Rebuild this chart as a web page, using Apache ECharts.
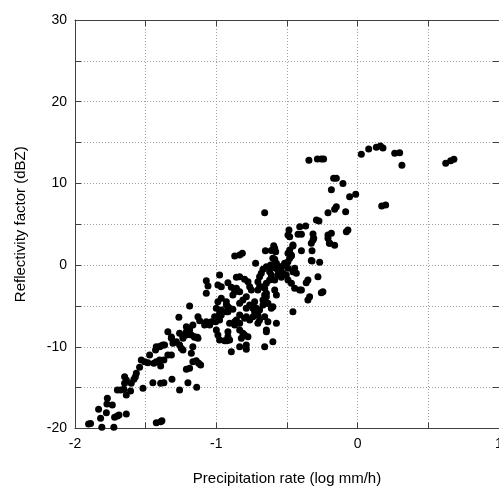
<!DOCTYPE html>
<html>
<head>
<meta charset="utf-8">
<script src="https://cdn.jsdelivr.net/npm/echarts@6/dist/echarts.min.js"></script>
<style>
html,body{margin:0;padding:0;background:#fff;}
#chart{width:499px;height:486px;}
</style>
</head>
<body>
<div id="chart"></div>
<script>
// Precipitation rate (log mm/h), reflectivity factor (dBZ) pairs
const highRatePoints = [
[-0.345,12.83],[-0.285,13.0],[-0.257,13.0],[-0.241,13.0],
[-0.17,10.63],[-0.151,10.63],[-0.186,9.23],[-0.104,10.0],[-0.057,8.37],[-0.014,8.67],
[0.026,13.56],[0.078,14.21],[0.132,14.42],[0.161,14.58],[0.179,14.33],[0.262,13.69],[0.297,13.76],[0.313,12.22],
[0.623,12.46],[0.658,12.78],[0.681,12.95],[0.17,7.24],[0.198,7.36],
[-0.658,6.42],[-0.151,7.15],[-0.163,6.83],[-0.21,6.42],[-0.085,6.54],[-0.292,5.52],[-0.274,5.4],
[-0.486,4.3],[-0.493,3.69],[-0.481,3.48],[-0.41,4.7],[-0.368,4.79],[-0.422,3.77],[-0.398,3.77],
[-0.316,3.8],[-0.311,3.28],[-0.21,3.69],[-0.186,3.89],[-0.21,3.28],[-0.08,4.09],[-0.069,4.3],[-0.2,2.67]
];
const midRatePoints = [
[-0.458,2.34],[-0.398,1.76],[-0.323,1.76],[-0.323,0.5],[-0.269,0.34],
[-0.469,1.24],[-0.481,0.83],[-0.493,0.42],[-0.517,0.22],[-0.536,-0.2],[-0.564,-0.6],
[-0.587,2.06],[-0.58,1.64],[-0.653,1.76],[-0.87,1.12],[-0.816,1.45],[-0.835,1.24],[-0.587,0.71],
[-0.616,0.01],[-0.607,-0.2],[-0.58,-0.39],[-0.722,0.22],[-0.446,-0.39],[-0.281,-1.42],
[-0.67,-0.51],[-0.682,-1.0],[-0.694,-1.42],
[-0.623,-0.8],[-0.611,-1.21],[-0.587,-1.82],[-0.564,-1.21],[-0.54,-1.49],
[-0.977,-1.21],[-1.071,-1.91],[-1.059,-2.56],
[-0.989,-2.43],[-0.965,-2.64],[-0.918,-2.15],[-0.894,-2.72],
[-0.858,-1.49],[-0.835,-1.42],[-0.8,-1.74],
[-0.776,-2.03],[-0.764,-2.64],[-0.752,-3.05],
[-0.706,-2.03],[-0.694,-2.64],[-0.706,-3.05],
[-0.658,-2.84],[-0.646,-3.45],
[-0.858,-2.84],[-0.87,-3.25],[-0.883,-3.66],[-0.788,-3.87],
[-0.587,-3.05],[-0.575,-3.66],
[-0.493,-1.82],[-0.469,-2.23],[-0.446,-2.84],
[-0.398,-3.05],[-0.352,-1.82],[-0.246,-3.25],[-0.34,-3.87],
[-0.594,2.36],[-0.611,1.8],[-0.493,1.45],[-0.469,1.12],[-0.481,1.85],
[-0.458,2.45],[-0.328,2.67],[-0.316,3.08],[-0.198,2.67],[-0.163,2.43],
[-0.328,0.55],[-0.6,0.83],[-0.575,0.22],[-0.552,-0.2],
[-0.517,0.01],[-0.493,-0.39],[-0.458,-0.8],[-0.434,-1.0],
[-0.529,-1.0],[-0.505,-1.21],[-0.646,-0.2],
[-0.623,-1.82],[-0.646,-2.23],[-0.67,-2.64],
[-0.364,-2.15],[-0.41,-3.05],[-0.352,-4.27],[-0.257,-3.37],
[-0.646,-3.87],[-0.658,-4.48],[-0.635,-4.67],[-0.611,-5.29],[-0.458,-5.7]
];
const lowerMidPoints = [
[-1.071,-3.45],[-0.835,-3.25],
[-0.989,-4.48],[-0.965,-4.06],[-0.929,-4.48],[-0.918,-5.09],
[-0.835,-4.67],[-0.812,-4.27],[-0.788,-5.29],[-0.764,-4.88],
[-0.729,-4.48],[-0.717,-5.29],[-0.67,-4.27],[-0.658,-3.66],
[-1.189,-5.0],[-1.265,-6.39],
[-1.212,-7.54],[-1.189,-7.73],[-1.166,-7.33],
[-1.13,-6.31],[-1.118,-6.8],[-1.071,-6.93],[-1.047,-7.33],
[-1.012,-6.31],[-1.005,-6.93],[-0.977,-5.9],[-0.989,-6.51],
[-0.929,-5.7],[-0.906,-5.29],[-0.858,-6.72],[-0.835,-6.11],
[-0.906,-7.12],[-0.87,-7.33],[-1.0,-7.94],[-0.835,-7.94],[-0.812,-8.35],
[-0.918,-8.76],[-0.906,-9.17],
[-1.13,-8.96],[-1.154,-8.83],[-1.177,-8.55],
[-1.26,-8.35],[-1.236,-8.96],[-1.212,-8.15],
[-1.318,-8.96],[-1.307,-9.57],[-1.401,-9.99],[-1.378,-9.78],
[-0.788,-6.31],[-0.764,-6.72],[-0.729,-5.7],
[-0.706,-6.11],[-0.694,-6.72],[-0.658,-6.31],
[-0.635,-6.93],[-0.646,-8.15],[-0.6,-5.09],
[-0.977,-9.17],[-0.941,-9.25],[-0.776,-8.76],
[-0.835,-9.99],[-0.788,-9.78],[-0.658,-9.99],[-0.6,-9.37],[-0.575,-7.12],
[-1.083,-7.33],[-1.035,-6.93],[-0.977,-6.72],[-0.965,-6.11],
[-1.0,-5.29],[-0.965,-5.49],[-0.929,-4.88],[-0.883,-5.4],[-0.918,-5.7],
[-0.87,-6.93],[-0.835,-7.12],[-0.8,-6.51],
[-0.989,-8.55],[-0.918,-8.15],[-0.925,-9.25],[-0.894,-10.6],
[-0.823,-8.96],[-0.8,-8.55],[-0.788,-10.3],
[-0.741,-6.31],[-0.717,-5.9],[-0.694,-5.49],[-0.67,-4.88],[-0.646,-4.67],
[-0.706,-7.12],[-0.646,-7.94],[-0.741,-5.29]
];
const lowRatePoints = [
[-1.904,-19.45],[-1.89,-19.4],[-1.81,-19.85],[-1.725,-19.85],
[-1.819,-18.75],[-1.833,-17.65],[-1.778,-18.06],[-1.774,-17.0],[-1.771,-16.3],[-1.736,-17.12],
[-1.72,-18.63],[-1.70,-18.47],[-1.689,-18.35],[-1.637,-18.22],
[-1.70,-15.29],[-1.677,-15.29],[-1.654,-15.2],[-1.637,-15.9],[-1.607,-15.41],
[-1.649,-14.47],[-1.637,-14.06],[-1.649,-13.66],[-1.602,-14.47],[-1.583,-13.98],
[-1.566,-13.24],[-1.573,-13.66],[-1.543,-12.51],
[-1.531,-11.61],[-1.507,-11.82],[-1.484,-11.94],[-1.519,-15.08],
[-1.472,-11.0],[-1.442,-12.02],[-1.425,-11.82],
[-1.425,-9.99],[-1.394,-9.9],[-1.366,-9.78],
[-1.401,-11.61],[-1.371,-11.61],[-1.394,-12.35],
[-1.449,-14.39],[-1.394,-14.47],[-1.371,-14.39],[-1.314,-13.98],[-1.26,-15.29],[-1.201,-14.39],[-1.139,-14.96],
[-1.425,-19.29],[-1.394,-19.17],[-1.385,-19.04],
[-1.343,-11.0],[-1.318,-11.0],[-1.318,-8.8],[-1.343,-8.15],
[-1.283,-9.37],[-1.26,-9.78],[-1.248,-10.18],
[-1.236,-8.76],[-1.212,-8.55],[-1.189,-7.94],[-1.177,-10.79],
[-1.154,-8.76],[-1.134,-8.83],
[-1.166,-11.82],[-1.142,-11.7],[-1.125,-12.02],
[-1.212,-12.75],[-1.189,-12.63],[-1.111,-12.23],[-1.43,-10.4],
[-1.236,-10.4],[-1.166,-9.99]
];
const xTickLabels = ['-2','-1','0','1'];
const yTickLabels = ['-20','-10','0','10','20','30'];

const allPoints = highRatePoints.concat(midRatePoints, lowerMidPoints, lowRatePoints);

const font = 'Liberation Sans, Arial, sans-serif';
const axisColor = '#404040';
const gridLine = {show:true, lineStyle:{color:'#a0a0a0', type:[1,2], width:1}};

const chart = echarts.init(document.getElementById('chart'), null, {renderer:'canvas'});
chart.setOption({
  animation:false,
  backgroundColor:'#ffffff',
  grid:{left:75, right:0, top:20, bottom:57.5, containLabel:false, outerBoundsMode:'none'},
  xAxis:[{
    type:'value', min:-2, max:1, interval:0.5, position:'bottom',
    axisLine:{show:true, onZero:false, lineStyle:{color:axisColor}},
    axisTick:{show:true, inside:true, length:6, lineStyle:{color:axisColor}},
    axisLabel:{color:'#000', fontSize:14, fontFamily:font, margin:9,
      formatter:v => xTickLabels.indexOf(String(v)) >= 0 ? String(v) : ''},
    splitLine:gridLine,
    name:'Precipitation rate (log mm/h)', nameLocation:'middle', nameGap:43,
    nameTextStyle:{color:'#000', fontSize:15, fontFamily:font}
  },{
    type:'value', min:-2, max:1, interval:0.5, position:'top',
    axisLine:{show:true, onZero:false, lineStyle:{color:axisColor}},
    axisTick:{show:true, inside:true, length:6, lineStyle:{color:axisColor}},
    axisLabel:{show:false}, splitLine:{show:false}
  }],
  yAxis:[{
    type:'value', min:-20, max:30, interval:5, position:'left',
    axisLine:{show:true, onZero:false, lineStyle:{color:axisColor}},
    axisTick:{show:true, inside:true, length:6, lineStyle:{color:axisColor}},
    axisLabel:{color:'#000', fontSize:14, fontFamily:font, margin:8,
      formatter:v => yTickLabels.indexOf(String(v)) >= 0 ? String(v) : ''},
    splitLine:gridLine,
    name:'Reflectivity factor (dBZ)', nameLocation:'middle', nameGap:47,
    nameTextStyle:{color:'#000', fontSize:15, fontFamily:font}
  },{
    type:'value', min:-20, max:30, interval:5, position:'right',
    axisLine:{show:true, onZero:false, lineStyle:{color:axisColor}},
    axisTick:{show:true, inside:true, length:6, lineStyle:{color:axisColor}},
    axisLabel:{show:false}, splitLine:{show:false}
  }],
  series:[{
    type:'scatter', xAxisIndex:0, yAxisIndex:0,
    data:allPoints, symbol:'circle', symbolSize:7,
    itemStyle:{color:'#000', opacity:1}
  }]
});
</script>
</body>
</html>
